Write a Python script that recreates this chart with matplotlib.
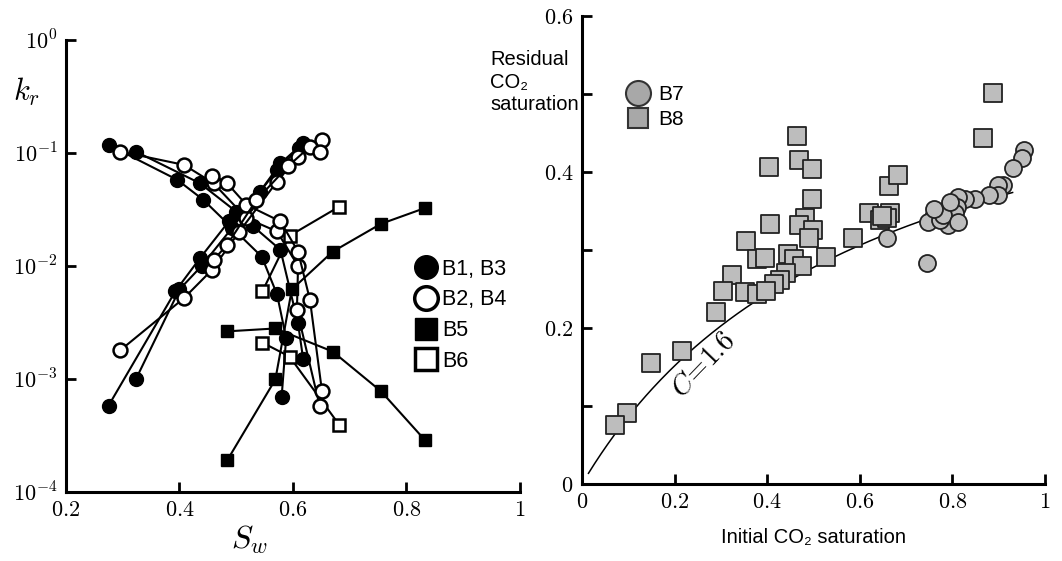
# relative permeability curves (left) and residual vs initial CO2 saturation (right)
import numpy as np
import matplotlib
matplotlib.use("Agg")
import matplotlib.pyplot as plt
from matplotlib.lines import Line2D
from matplotlib.ticker import NullLocator

plt.rcParams['font.family'] = ['Liberation Sans', 'DejaVu Sans']
plt.rcParams['mathtext.fontset'] = 'cm'

# ---- left panel: k_r vs S_w ----
# B1, B3 (black circles)
b1_co2_sw = [0.275, 0.396, 0.442, 0.545, 0.572, 0.588, 0.580]
b1_co2_kr = [0.118, 0.058, 0.0385, 0.0121, 0.0056, 0.0023, 0.00069]
b3_co2_sw = [0.323, 0.436, 0.500, 0.530, 0.578, 0.609, 0.618]
b3_co2_kr = [0.103, 0.054, 0.0303, 0.0224, 0.0139, 0.0031, 0.0015]
b1_w_sw = [0.275, 0.393, 0.436, 0.487, 0.542, 0.578, 0.618]
b1_w_kr = [0.00058, 0.006, 0.0117, 0.0248, 0.0456, 0.081, 0.122]
b3_w_sw = [0.323, 0.400, 0.439, 0.492, 0.572, 0.610]
b3_w_kr = [0.00099, 0.0062, 0.0100, 0.0215, 0.071, 0.110]

# B2, B4 (white circles)
b2_co2_sw = [0.296, 0.408, 0.460, 0.518, 0.572, 0.609, 0.607, 0.647]
b2_co2_kr = [0.103, 0.0785, 0.054, 0.0265, 0.0202, 0.010, 0.0041, 0.00058]
b4_co2_sw = [0.457, 0.484, 0.518, 0.578, 0.609, 0.630, 0.651]
b4_co2_kr = [0.062, 0.054, 0.0348, 0.0248, 0.0134, 0.005, 0.00079]
b2_w_sw = [0.296, 0.408, 0.457, 0.505, 0.572, 0.609, 0.651]
b2_w_kr = [0.0018, 0.0052, 0.0092, 0.020, 0.0559, 0.093, 0.130]
b4_w_sw = [0.460, 0.484, 0.535, 0.591, 0.630, 0.648]
b4_w_kr = [0.0113, 0.0154, 0.038, 0.076, 0.114, 0.103]

# B5 (black squares)
b5_w_sw = [0.484, 0.569, 0.598, 0.670, 0.755, 0.832]
b5_w_kr = [0.00019, 0.00099, 0.0062, 0.0134, 0.0236, 0.0325]
b5_co2_sw = [0.484, 0.569, 0.670, 0.755, 0.832]
b5_co2_kr = [0.00264, 0.0028, 0.00175, 0.00078, 0.00029]

# B6 (white squares)
b6_w_sw = [0.546, 0.594, 0.682]
b6_w_kr = [0.00595, 0.0185, 0.0336]
b6_co2_sw = [0.546, 0.594, 0.682]
b6_co2_kr = [0.0021, 0.00158, 0.00039]

# ---- right panel: residual vs initial CO2 saturation ----
b7_si = [0.955, 0.950, 0.930, 0.910, 0.899, 0.899, 0.878, 0.849, 0.827, 0.813,
         0.795, 0.809, 0.766, 0.759, 0.806, 0.791, 0.748, 0.773, 0.780, 0.812,
         0.658, 0.745, 0.795, 0.760]
b7_sr = [0.428, 0.418, 0.405, 0.383, 0.383, 0.371, 0.370, 0.365, 0.366, 0.368,
         0.358, 0.355, 0.350, 0.343, 0.347, 0.332, 0.336, 0.338, 0.345, 0.336,
         0.315, 0.284, 0.361, 0.352]
b8_si = [0.888, 0.867, 0.465, 0.469, 0.496, 0.403, 0.496, 0.406, 0.482, 0.469,
         0.500, 0.491, 0.354, 0.662, 0.683, 0.619, 0.665, 0.644, 0.658, 0.585,
         0.527, 0.377, 0.395, 0.446, 0.457, 0.475, 0.441, 0.323, 0.428, 0.415,
         0.305, 0.352, 0.377, 0.397, 0.289, 0.217, 0.149, 0.098, 0.071, 0.648]
b8_sr = [0.501, 0.444, 0.446, 0.416, 0.404, 0.407, 0.365, 0.334, 0.341, 0.332,
         0.326, 0.316, 0.311, 0.382, 0.396, 0.347, 0.347, 0.338, 0.341, 0.315,
         0.291, 0.289, 0.290, 0.295, 0.289, 0.279, 0.270, 0.268, 0.262, 0.257,
         0.247, 0.246, 0.244, 0.247, 0.220, 0.170, 0.155, 0.091, 0.076, 0.344]

C_LAND = 1.6
land_si_range = (0.014, 0.93)

fig = plt.figure(figsize=(10.62, 5.61), dpi=100)
ax1 = fig.add_axes([0.0621, 0.123, 0.4275, 0.8057])
ax2 = fig.add_axes([0.548, 0.1373, 0.436, 0.834])

blk_c = dict(marker='o', ms=10, mfc='k', mec='k', color='k', lw=1.5)
wht_c = dict(marker='o', ms=10, mfc='w', mec='k', mew=1.8, color='k', lw=1.5)
blk_s = dict(marker='s', ms=9, mfc='k', mec='k', color='k', lw=1.5)
wht_s = dict(marker='s', ms=9, mfc='w', mec='k', mew=1.8, color='k', lw=1.5)

ax1.plot(b5_w_sw, b5_w_kr, **blk_s)
ax1.plot(b5_co2_sw, b5_co2_kr, **blk_s)
ax1.plot(b6_w_sw, b6_w_kr, **wht_s)
ax1.plot(b6_co2_sw, b6_co2_kr, **wht_s)
ax1.plot(b1_co2_sw, b1_co2_kr, **blk_c)
ax1.plot(b3_co2_sw, b3_co2_kr, **blk_c)
ax1.plot(b1_w_sw, b1_w_kr, **blk_c)
ax1.plot(b3_w_sw, b3_w_kr, **blk_c)
ax1.plot(b2_co2_sw, b2_co2_kr, **wht_c)
ax1.plot(b4_co2_sw, b4_co2_kr, **wht_c)
ax1.plot(b2_w_sw, b2_w_kr, **wht_c)
ax1.plot(b4_w_sw, b4_w_kr, **wht_c)

ax1.set_yscale('log')
ax1.set_xlim(0.2, 1)
ax1.set_ylim(1e-4, 1)
ax1.set_yticks([1e-4, 1e-3, 1e-2, 1e-1, 1])
ax1.set_yticklabels([r'$10^{-4}$', r'$10^{-3}$', r'$10^{-2}$', r'$10^{-1}$', r'$10^{0}$'])
ax1.yaxis.set_minor_locator(NullLocator())
ax1.set_xticks([0.2, 0.4, 0.6, 0.8, 1])
ax1.set_xticklabels([r'$0.2$', r'$0.4$', r'$0.6$', r'$0.8$', r'$1$'])
ax1.text(-0.086, 0.885, r'$k_r$', transform=ax1.transAxes, fontsize=22,
         ha='center', va='center')
ax1.text(0.405, -0.106, r'$S_w$', transform=ax1.transAxes, fontsize=23,
         ha='center', va='center')

leg_handles = [
    Line2D([], [], ls='none', marker='o', ms=17, mfc='k', mec='k'),
    Line2D([], [], ls='none', marker='o', ms=17, mfc='w', mec='k', mew=2.5),
    Line2D([], [], ls='none', marker='s', ms=16, mfc='k', mec='k'),
    Line2D([], [], ls='none', marker='s', ms=16, mfc='w', mec='k', mew=2.5),
]
ax1.legend(leg_handles, ['B1, B3', 'B2, B4', 'B5', 'B6'], loc='upper left',
           bbox_to_anchor=(0.745, 0.54), frameon=False, fontsize=15.5,
           handlelength=1.0, handletextpad=0.25, labelspacing=0.45, borderpad=0)

# right panel
ax2.scatter(b8_si, b8_sr, marker='s', s=150, c='#bdbdbd', edgecolors='#222222',
            linewidths=1.3, zorder=3)
ax2.scatter(b7_si, b7_sr, marker='o', s=150, c='#bdbdbd', edgecolors='#222222',
            linewidths=1.3, zorder=4)
si = np.linspace(land_si_range[0], land_si_range[1], 200)
ax2.plot(si, si / (1 + C_LAND * si), color='k', lw=1.1, zorder=2)
ax2.text(0.262, 0.153, r'$C\!=\!1.6$', rotation=46, fontsize=20,
         ha='center', va='center')

ax2.set_xlim(0, 1)
ax2.set_ylim(0, 0.6)
ax2.set_xticks([0, 0.2, 0.4, 0.6, 0.8, 1])
ax2.set_xticklabels([r'$0$', r'$0.2$', r'$0.4$', r'$0.6$', r'$0.8$', r'$1$'])
ax2.set_yticks([0, 0.1, 0.2, 0.3, 0.4, 0.5, 0.6])
ax2.set_yticklabels([r'$0$', '', r'$0.2$', '', r'$0.4$', '', r'$0.6$'])
ax2.set_xlabel('Initial CO\u2082 saturation', fontsize=14.5)
ax2.xaxis.set_label_coords(0.5, -0.095)

leg2 = [
    Line2D([], [], ls='none', marker='o', ms=18, mfc='#a8a8a8', mec='#333333', mew=1.5),
    Line2D([], [], ls='none', marker='s', ms=15, mfc='#a8a8a8', mec='#333333', mew=1.5),
]
ax2.legend(leg2, ['B7', 'B8'], loc='upper left', bbox_to_anchor=(0.075, 0.875),
           frameon=False, fontsize=15, handlelength=1.0, handletextpad=0.5,
           labelspacing=0.3, borderpad=0)

fig.text(490 / 1062, 1 - 50 / 561, 'Residual\nCO\u2082\nsaturation', fontsize=14.5,
         ha='left', va='top', linespacing=1.25)

for ax in (ax1, ax2):
    for side in ('top', 'right'):
        ax.spines[side].set_visible(False)
    for side in ('left', 'bottom'):
        ax.spines[side].set_linewidth(2.2)
    ax.tick_params(direction='in', length=7, width=2, labelsize=16, pad=6)

fig.savefig('out.png', dpi=100)
